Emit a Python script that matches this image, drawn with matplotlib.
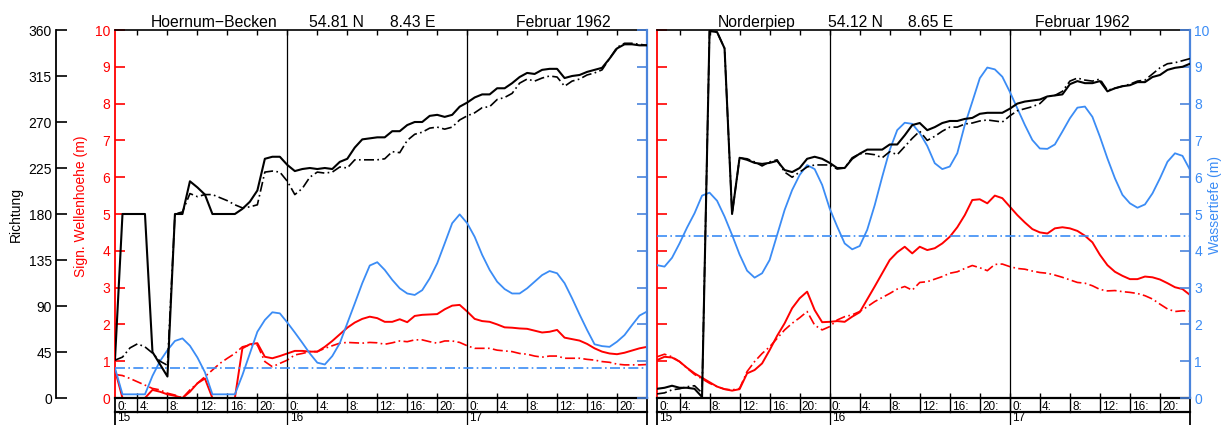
import numpy as np
import matplotlib
matplotlib.use('Agg')
import matplotlib.pyplot as plt

plt.rcParams['font.family'] = ['Liberation Sans', 'DejaVu Sans']

# hours since 15 Feb 1962 00:00
hours = np.arange(1, 73)
day_labels = ['15', '16', '17']
hour_labels = ['0:', '4:', '8:', '12:', '16:', '20:']

# Hoernum-Becken
hoernum_dir = [38, 180, 180, 180, 180, 45, 33, 21, 180, 180, 212, 206,
               199, 180, 180, 180, 180, 185, 192, 203, 234, 236, 236, 228,
               222, 224, 225, 224, 225, 224, 231, 234, 245, 253, 254, 255,
               255, 261, 261, 267, 270, 270, 276, 277, 275, 277, 285, 289,
               294, 297, 297, 303, 303, 308, 314, 318, 317, 321, 322, 322,
               313, 315, 316, 319, 321, 323, 332, 342, 346, 346, 345, 345]
hoernum_dir_mod = [37, 40, 49, 53, 50, 44, 36, 32, 180, 182, 200, 197,
                   199, 199, 196, 193, 189, 186, 187, 189, 221, 222, 221, 212,
                   199, 205, 216, 221, 220, 221, 226, 225, 233, 233, 233, 233,
                   234, 241, 240, 252, 258, 260, 264, 265, 263, 265, 272, 276,
                   279, 284, 285, 292, 294, 298, 308, 312, 310, 313, 315, 314,
                   305, 310, 312, 316, 318, 321, 332, 343, 347, 347, 346, 345]
hoernum_hs = [0.76, 0.0, 0.0, 0.0, 0.0, 0.22, 0.17, 0.10, 0.06, 0.0, 0.17, 0.40,
              0.53, 0.0, 0.0, 0.0, 0.0, 1.35, 1.46, 1.49, 1.12, 1.08, 1.14, 1.21,
              1.28, 1.28, 1.26, 1.26, 1.39, 1.55, 1.73, 1.91, 2.05, 2.15, 2.21, 2.17,
              2.07, 2.07, 2.14, 2.06, 2.23, 2.26, 2.27, 2.28, 2.41, 2.51, 2.53, 2.35,
              2.15, 2.09, 2.07, 2.00, 1.92, 1.91, 1.89, 1.88, 1.83, 1.78, 1.80, 1.85,
              1.64, 1.60, 1.56, 1.47, 1.35, 1.26, 1.21, 1.19, 1.23, 1.29, 1.35, 1.39]
hoernum_hs_mod = [0.64, 0.61, 0.53, 0.44, 0.35, 0.26, 0.22, 0.13, 0.08, 0.0, 0.22, 0.40,
                  0.58, 0.76, 0.94, 1.08, 1.21, 1.39, 1.44, 1.44, 0.99, 0.85, 0.94, 1.03,
                  1.17, 1.21, 1.26, 1.26, 1.35, 1.42, 1.49, 1.51, 1.50, 1.49, 1.51, 1.50,
                  1.46, 1.50, 1.55, 1.53, 1.58, 1.58, 1.53, 1.49, 1.55, 1.55, 1.51, 1.42,
                  1.35, 1.35, 1.35, 1.30, 1.28, 1.26, 1.21, 1.19, 1.14, 1.11, 1.14, 1.14,
                  1.08, 1.08, 1.08, 1.05, 1.03, 0.99, 0.97, 0.92, 0.90, 0.90, 0.90, 0.91]
hoernum_depth = [0.81, 0.10, 0.10, 0.10, 0.10, 0.60, 1.00, 1.30, 1.55, 1.62, 1.42, 1.10,
                 0.70, 0.10, 0.10, 0.10, 0.10, 0.62, 1.21, 1.80, 2.12, 2.33, 2.30, 2.05,
                 1.78, 1.50, 1.21, 0.96, 0.91, 1.14, 1.49, 2.03, 2.57, 3.12, 3.60, 3.69,
                 3.48, 3.21, 2.98, 2.84, 2.80, 2.93, 3.25, 3.66, 4.20, 4.75, 4.99, 4.75,
                 4.38, 3.89, 3.48, 3.16, 2.96, 2.84, 2.84, 2.98, 3.16, 3.34, 3.45, 3.39,
                 3.12, 2.71, 2.27, 1.85, 1.46, 1.41, 1.39, 1.53, 1.71, 1.98, 2.24, 2.35]
hoernum_depth_mean = 0.81

# Norderpiep
norder_dir = [9, 10, 12, 10, 10, 9, 1, 359, 358, 342, 180, 235,
              233, 230, 229, 230, 232, 223, 221, 225, 234, 236, 234, 230,
              225, 225, 234, 239, 243, 243, 243, 248, 248, 257, 267, 269,
              262, 265, 269, 271, 271, 273, 274, 278, 279, 279, 279, 283,
              288, 290, 291, 292, 295, 296, 297, 307, 310, 308, 308, 310,
              300, 303, 305, 306, 309, 309, 314, 316, 321, 323, 324, 327]
norder_dir_mod = [4, 5, 8, 9, 11, 12, 5, 359, 358, 342, 180, 235,
                  234, 231, 227, 231, 233, 221, 216, 221, 226, 228, 228, 228,
                  224, 225, 235, 239, 239, 238, 235, 241, 238, 246, 254, 261,
                  252, 256, 261, 265, 265, 268, 269, 271, 272, 271, 270, 276,
                  281, 283, 285, 288, 295, 296, 300, 310, 313, 311, 310, 312,
                  301, 303, 305, 307, 310, 311, 317, 323, 327, 328, 330, 332]
norder_hs = [1.03, 1.12, 1.10, 0.99, 0.82, 0.67, 0.55, 0.43, 0.31, 0.24, 0.20, 0.24,
             0.67, 0.76, 0.94, 1.30, 1.69, 2.03, 2.44, 2.71, 2.89, 2.39, 2.06, 2.07,
             2.09, 2.07, 2.21, 2.33, 2.68, 3.03, 3.39, 3.75, 3.96, 4.11, 3.93, 4.11,
             4.02, 4.07, 4.20, 4.38, 4.64, 4.97, 5.38, 5.40, 5.29, 5.50, 5.43, 5.20,
             4.97, 4.77, 4.59, 4.50, 4.47, 4.61, 4.64, 4.61, 4.54, 4.41, 4.23, 3.89,
             3.61, 3.43, 3.32, 3.23, 3.23, 3.30, 3.28, 3.22, 3.12, 3.01, 2.96, 2.80]
norder_hs_mod = [1.12, 1.19, 1.12, 0.99, 0.81, 0.64, 0.52, 0.40, 0.31, 0.24, 0.22, 0.26,
                 0.72, 0.99, 1.21, 1.39, 1.62, 1.85, 2.03, 2.18, 2.35, 1.98, 1.85, 1.94,
                 2.12, 2.21, 2.26, 2.35, 2.48, 2.62, 2.73, 2.84, 2.96, 3.03, 2.93, 3.14,
                 3.16, 3.23, 3.30, 3.39, 3.43, 3.52, 3.60, 3.54, 3.46, 3.63, 3.64, 3.57,
                 3.52, 3.50, 3.45, 3.41, 3.39, 3.34, 3.28, 3.21, 3.14, 3.12, 3.05, 2.95,
                 2.91, 2.92, 2.89, 2.87, 2.84, 2.78, 2.69, 2.55, 2.42, 2.35, 2.37, 2.36]
norder_depth = [3.61, 3.57, 3.81, 4.20, 4.63, 5.02, 5.50, 5.58, 5.36, 4.93, 4.43, 3.90,
                3.46, 3.27, 3.39, 3.75, 4.43, 5.11, 5.65, 6.06, 6.33, 6.22, 5.79, 5.15,
                4.66, 4.20, 4.04, 4.13, 4.57, 5.24, 6.01, 6.74, 7.28, 7.48, 7.45, 7.20,
                6.85, 6.38, 6.22, 6.29, 6.65, 7.42, 8.05, 8.69, 8.98, 8.93, 8.73, 8.32,
                7.87, 7.42, 7.01, 6.78, 6.77, 6.89, 7.24, 7.60, 7.89, 7.92, 7.64, 7.10,
                6.51, 5.97, 5.52, 5.29, 5.17, 5.26, 5.56, 5.97, 6.42, 6.65, 6.58, 6.20]
norder_depth_mean = 4.40

RED = '#ff0000'
BLUE = '#3b8cf5'
BLUE_AX = '#4a84dc'
W, H = 1221, 425
Y0 = (H - 398) / H
HH = 368 / H
DASHDOT = (0, (6, 2, 1, 2))

fig = plt.figure(figsize=(W / 100, H / 100), dpi=100)


def panel(x_px, w_px, titles, dir_obs, dir_mod, hs_obs, hs_mod, depth, depth_mean,
          red_labels, blue_labels):
    ax = fig.add_axes([x_px / W, Y0, w_px / W, HH])
    ax.set_xlim(1, 72)
    ax.set_ylim(0, 10)
    ax.set_yticks(range(0, 11))
    ax.tick_params(axis='y', direction='in', length=7, width=1.2, color=RED,
                   labelcolor=RED, labelsize=10, pad=3.5, labelleft=red_labels)
    ax.set_xticks(range(4, 72, 4))
    ax.tick_params(axis='x', direction='in', length=3.6, width=1, top=True,
                   bottom=True, labelbottom=False)
    ax.spines['left'].set_color(RED)
    ax.spines['left'].set_linewidth(1.3)
    ax.spines['right'].set_visible(False)
    ax.spines['top'].set_linewidth(1.2)
    ax.spines['bottom'].set_linewidth(1.6)

    ax.plot(hours, hs_mod, color=RED, lw=1.2, linestyle=DASHDOT)
    ax.plot(hours, hs_obs, color=RED, lw=1.4)

    axb = ax.twinx()
    axb.set_ylim(0, 10)
    axb.set_yticks(range(0, 11))
    axb.tick_params(axis='y', direction='in', length=7, width=1.2, color=BLUE_AX,
                    labelcolor=BLUE, labelsize=10, pad=3, labelright=blue_labels)
    for s in ['left', 'top', 'bottom']:
        axb.spines[s].set_visible(False)
    axb.spines['right'].set_color(BLUE_AX)
    axb.spines['right'].set_linewidth(1.6)
    axb.axhline(depth_mean, color=BLUE, lw=1.2, linestyle=DASHDOT)
    axb.plot(hours, depth, color=BLUE, lw=1.3)

    axd = ax.twinx()
    axd.set_ylim(0, 360)
    axd.set_yticks([])
    for s in axd.spines.values():
        s.set_visible(False)
    axd.plot(hours, dir_mod, color='black', lw=1.2, linestyle=DASHDOT)
    axd.plot(hours, dir_obs, color='black', lw=1.5)

    # day separators and the date/time boxes under the axis
    tr = ax.get_xaxis_transform()
    yb1 = -14 / 368
    yb2 = -0.08
    for k in range(3):
        d = 24 * k
        if k > 0:
            ax.plot([d, d], [1, yb2], color='black', lw=0.9, transform=tr, clip_on=False)
        ax.text(max(d, 1) + 0.3, -23 / 368, day_labels[k], transform=tr,
                ha='left', va='baseline', fontsize=8.5)
        for j, lab in enumerate(hour_labels):
            h = d + 4 * j
            if h > 0:
                ax.plot([h, h], [0, yb1], color='black', lw=1.0, transform=tr, clip_on=False)
            ax.text(max(h, 1) + 0.3, -12.5 / 368, lab, transform=tr,
                    ha='left', va='baseline', fontsize=8.5)
    ax.plot([1, 72], [yb1, yb1], color='black', lw=1.6, transform=tr, clip_on=False)
    for e in [1, 72]:
        ax.plot([e, e], [0, yb2], color='black', lw=1.3, transform=tr, clip_on=False)

    for txt, xc in titles:
        fig.text(xc / W, 1 - 27 / H, txt, ha='center', va='baseline', fontsize=11.3)
    return ax


panel(115, 532, [('Hoernum\u2212Becken', 214), ('54.81 N', 336), ('8.43 E', 413),
                 ('Februar 1962', 563)],
      hoernum_dir, hoernum_dir_mod, hoernum_hs, hoernum_hs_mod,
      hoernum_depth, hoernum_depth_mean, True, False)
panel(657, 533, [('Norderpiep', 757), ('54.12 N', 855), ('8.65 E', 931),
                 ('Februar 1962', 1082)],
      norder_dir, norder_dir_mod, norder_hs, norder_hs_mod,
      norder_depth, norder_depth_mean, False, True)

# direction axis on the far left
axr = fig.add_axes([56 / W, Y0, 11 / W, HH])
axr.set_ylim(0, 360)
axr.set_yticks(range(0, 361, 45))
axr.set_xticks([])
axr.patch.set_visible(False)
for s in ['right', 'top', 'bottom']:
    axr.spines[s].set_visible(False)
axr.spines['left'].set_linewidth(1.3)
axr.tick_params(axis='y', direction='in', length=8, width=1.2, labelsize=10, pad=3)

fig.text(16 / W, 1 - 214 / H, 'Richtung', rotation=90, ha='center', va='center', fontsize=10)
fig.text(81 / W, 1 - 206 / H, 'Sign. Wellenhoehe (m)', rotation=90, ha='center',
         va='center', fontsize=10, color=RED)
fig.text(1215 / W, 1 - 205 / H, 'Wassertiefe (m)', rotation=90, ha='center',
         va='center', fontsize=10, color=BLUE)

fig.savefig('out.png', dpi=100)
